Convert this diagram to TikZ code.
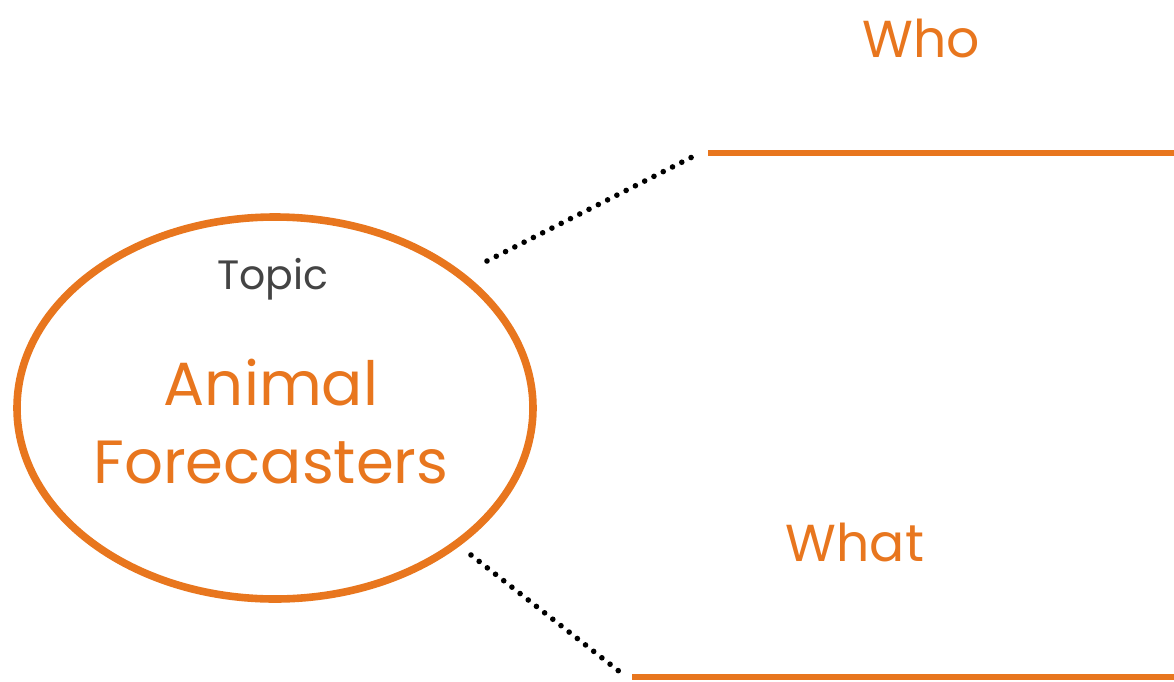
\documentclass[tikz,border=0pt]{standalone}
\usepackage{fontspec}
\setmainfont{Poppins}
\usepackage{xcolor}
\usetikzlibrary{shapes.geometric}
\usetikzlibrary{positioning}
\definecolor{forange}{HTML}{E8761E}
\definecolor{fgray}{HTML}{444444}

\begin{document}
\begin{tikzpicture}[x=0.5pt,y=-0.5pt,
    dots/.style={line width=2.8pt,line cap=round,dash pattern=on 0pt off 5.2pt},
    rule/.style={draw=forange,line width=2.6pt}]
      \useasboundingbox (0,0) rectangle (1174,681);
      %%
      \node[ellipse,draw=forange,line width=3.8pt,minimum width=258pt,
            minimum height=191pt,inner sep=0pt](T) at (275,408) {};
      \node[text=fgray,font=\fontsize{20.5}{24}\selectfont](topic) at (273,279) {Topic};
      \node[text=forange,font=\fontsize{30.5}{39}\selectfont,align=center,
            inner sep=0pt](name) at (271,422) {Animal\\Forecasters};
      %%
      \node[text=forange,font=\fontsize{26}{30}\selectfont](who) at (921,38) {Who};
      \node[text=forange,font=\fontsize{26}{30}\selectfont](what) at (855,542) {What};
      %%
      \coordinate(A1) at (487,261);
      \coordinate(A2) at (700,153);
      \coordinate(A3) at (708,153);
      \coordinate(A4) at (1174,153);
      \coordinate(B1) at (471,555);
      \coordinate(B2) at (620,672);
      \coordinate(B3) at (632,677);
      \coordinate(B4) at (1174,677);
      \draw[dots](A1)--(A2);
      \draw[rule](A3)--(A4);
      \draw[dots](B1)--(B2);
      \draw[rule](B3)--(B4);
    \end{tikzpicture}
\end{document}
